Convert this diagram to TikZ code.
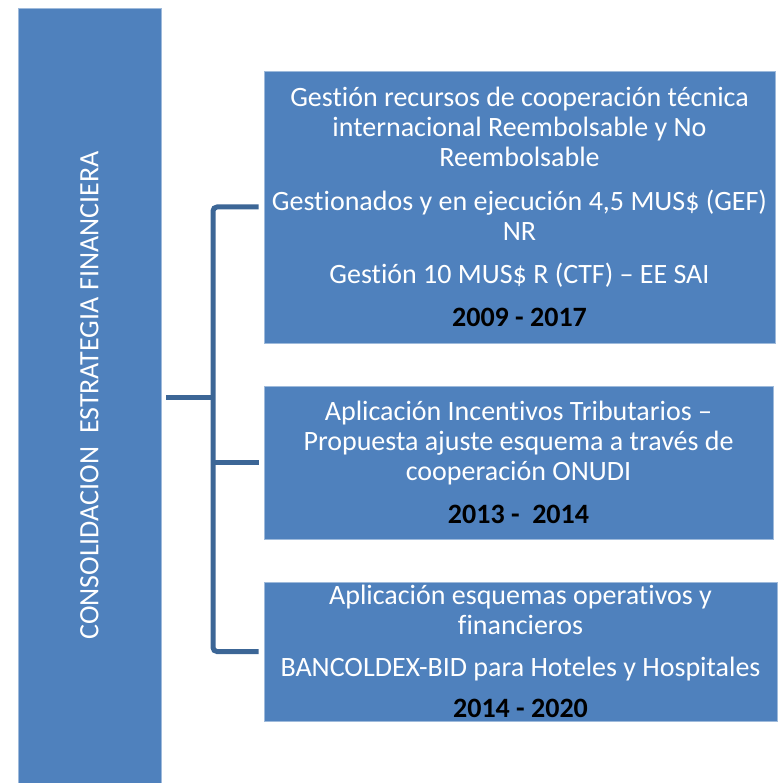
\documentclass[tikz,border=0pt]{standalone}
\usepackage{fontspec}
\setmainfont{Carlito}[Ligatures=NoCommon]
\definecolor{boxblue}{HTML}{4F81BD}
\definecolor{linkblue}{HTML}{3C6696}
\newcommand{\anio}[1]{{\bfseries\color{black}#1}}

\begin{document}
\begin{tikzpicture}[x=1pt,y=-1pt,
  caja/.style={fill=boxblue,draw=boxblue!55!white,line width=0.8pt,rectangle,text=white,align=center,inner sep=0pt,font=\fontsize{28}{30}\selectfont},
  enlace/.style={draw=linkblue,line width=5pt}]
\useasboundingbox (0,0) rectangle (780,783);

\node[caja,minimum width=143pt,minimum height=775pt] (E) at (89.5,395.5) {\rotatebox{90}{CONSOLIDACION\ \ ESTRATEGIA FINANCIERA}};

\node[caja,minimum width=511pt,minimum height=272pt] (A) at (519.5,207) {Gestión recursos de cooperación técnica\\ internacional Reembolsable y No\\ Reembolsable\\[14pt] Gestionados y en ejecución 4,5 MUS\$ (GEF)\\ NR\\[13pt] Gestión 10 MUS\$ R (CTF) -- EE SAI\\[13pt] \anio{2009 - 2017}};
\node[caja,minimum width=509pt,minimum height=153pt] (B) at (518.5,462.5) {Aplicación Incentivos Tributarios --\\ Propuesta ajuste esquema a través de\\ cooperación ONUDI\\[13pt] \anio{2013 -\ \ 2014}};
\node[caja,minimum width=513pt,minimum height=139pt] (C) at (520.5,651.5) {Aplicación esquemas operativos y\\ financieros\\[12pt] BANCOLDEX-BID para Hoteles y Hospitales\\[11pt] \anio{2014 - 2020}};

\coordinate (h) at (213,397);

\draw[enlace,shorten <=5pt] (E.east |- h) -- (h); %E
\draw[enlace,rounded corners=4pt,shorten <=5pt,shorten >=5pt] (A.west) -| (h) |- (C.west); %AC
\draw[enlace,shorten >=5pt] (h |- B.west) -- (B.west); %B

\end{tikzpicture}
\end{document}
